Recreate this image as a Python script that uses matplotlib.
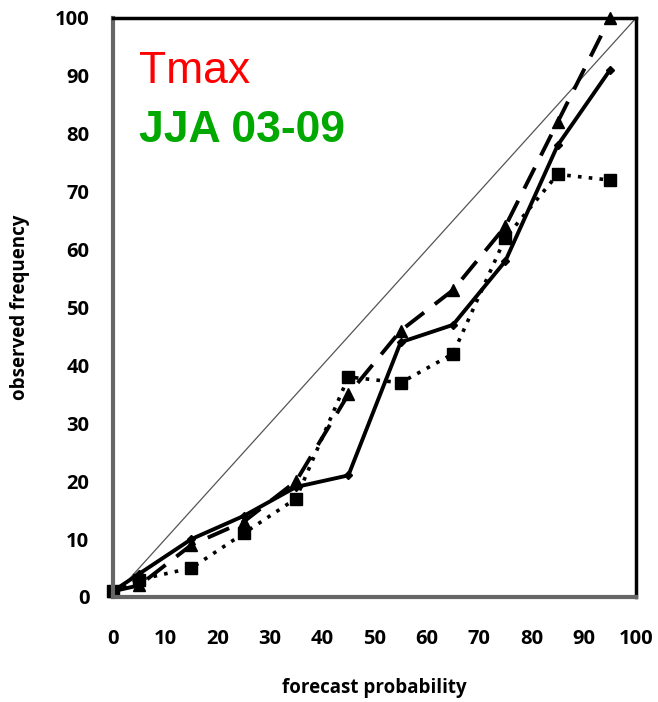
import matplotlib
matplotlib.use("Agg")
import matplotlib.pyplot as plt

x = [0, 5, 15, 25, 35, 45, 55, 65, 75, 85, 95]
solid = [1, 4, 10, 14, 19, 21, 44, 47, 58, 78, 91]
dashed = [1, 2, 9, 13, 20, 35, 46, 53, 64, 82, 100]
dotted = [1, 3, 5, 11, 17, 38, 37, 42, 62, 73, 72]
ticks = [0, 10, 20, 30, 40, 50, 60, 70, 80, 90, 100]

fig = plt.figure(figsize=(6.58, 7.02), dpi=100)
ax = fig.add_axes([0.1717, 0.1496, 0.795, 0.8248])
ax.plot([0, 100], [0, 100], color="#555555", lw=0.9)
ax.plot(x, dotted, color="black", ls=(0, (1, 2)), lw=2.6, marker="s", ms=8, clip_on=False)
ax.plot(x, dashed, color="black", ls=(0, (6, 3.5)), lw=2.8, marker="^", ms=8, clip_on=False)
ax.plot(x, solid, color="black", ls="-", lw=2.8, marker="D", ms=4.5, clip_on=False)
ax.set_xlim(0, 100)
ax.set_ylim(0, 100)
ax.set_xticks(ticks)
ax.set_yticks(ticks)
fp = dict(family="Open Sans", weight="bold", size=14.5)
ax.set_xticklabels([str(t) for t in ticks], **fp)
ax.set_yticklabels([str(t) for t in ticks], **fp)
ax.tick_params(axis="y", length=0, pad=17)
ax.tick_params(axis="x", length=0, pad=23)
for s in ["top", "right"]:
    ax.spines[s].set_color("black")
    ax.spines[s].set_linewidth(2.5)
for s in ["left", "bottom"]:
    ax.spines[s].set_color("#666666")
    ax.spines[s].set_linewidth(3)
ax.set_xlabel("forecast probability", family="Open Sans", weight="bold", size=13.5, labelpad=21)
ax.set_ylabel("observed frequency", family="Open Sans", weight="bold", size=13.5, labelpad=18)
ax.text(0.05, 0.908, "Tmax", transform=ax.transAxes, color="#ff0000",
        family="Liberation Sans", size=32, va="center")
ax.text(0.05, 0.805, "JJA 03-09", transform=ax.transAxes, color="#00a800",
        family="Liberation Sans", weight="bold", size=32, va="center")
fig.savefig("out.png", dpi=100)
